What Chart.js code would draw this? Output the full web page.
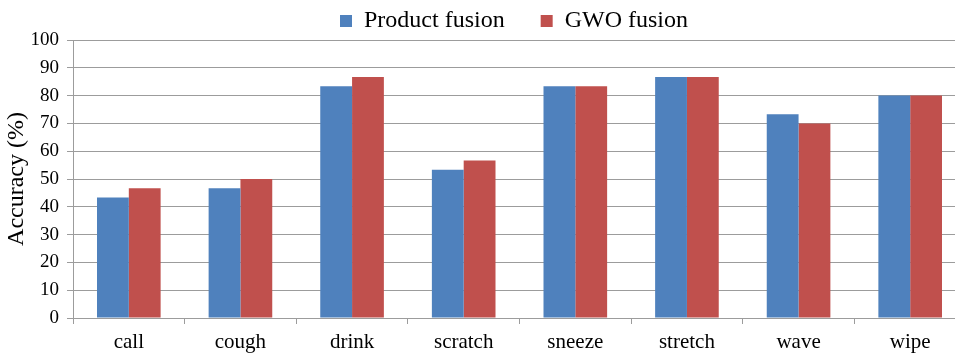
<!DOCTYPE html>
<html>
<head>
<meta charset="utf-8">
<script src="https://cdn.jsdelivr.net/npm/chart.js@4"></script>
<style>
  html, body { margin: 0; padding: 0; overflow: hidden; background: #fff; }
  canvas { display: block; }
</style>
</head>
<body>
<canvas id="accuracyChart" width="1028" height="356"></canvas>
<script>
// Data
const categories = ['call', 'cough', 'drink', 'scratch', 'sneeze', 'stretch', 'wave', 'wipe'];
const productFusion = [43.33, 46.67, 83.33, 53.33, 83.33, 86.67, 73.33, 80];
const gwoFusion = [46.67, 50, 86.67, 56.67, 83.33, 86.67, 70, 80];
const yTicks = [0, 10, 20, 30, 40, 50, 60, 70, 80, 90, 100];

const serif = "'Liberation Serif', 'Times New Roman', serif";
const gridGray = '#9c9c9c';

const ctx = document.getElementById('accuracyChart');
new Chart(ctx, {
  type: 'bar',
  data: {
    labels: categories,
    datasets: [{
      label: 'Product fusion',
      data: productFusion,
      backgroundColor: '#4F81BD',
      categoryPercentage: 0.57,
      barPercentage: 1
    }, {
      label: 'GWO fusion',
      data: gwoFusion,
      backgroundColor: '#C0504D',
      categoryPercentage: 0.57,
      barPercentage: 1
    }]
  },
  options: {
    responsive: false,
    animation: false,
    // negative top padding so the wide legend spacing does not push the plot down
    layout: { padding: { top: -27, left: 0, right: 0, bottom: 0 } },
    plugins: {
      tooltip: { enabled: false },
      legend: {
        position: 'top',
        maxHeight: 67,
        labels: {
          color: '#000',
          font: { family: serif, size: 24 },
          boxWidth: 12,
          boxHeight: 12,
          padding: 36
        }
      }
    },
    scales: {
      x: {
        afterFit: scale => { scale.height = 38; },
        grid: {
          offset: true,
          drawOnChartArea: false,
          drawTicks: true,
          tickLength: 6,
          color: gridGray
        },
        border: { display: true, color: gridGray },
        ticks: {
          color: '#000',
          font: { family: serif, size: 21 },
          padding: 6
        }
      },
      y: {
        min: 0,
        max: 100,
        afterBuildTicks: scale => { scale.ticks = yTicks.map(v => ({ value: v })); },
        afterFit: scale => { scale.width = 73; },
        grid: { color: gridGray, tickLength: 6 },
        border: { display: true, color: gridGray },
        ticks: {
          color: '#000',
          font: { family: serif, size: 19 },
          padding: 8
        },
        title: {
          display: true,
          text: 'Accuracy (%)',
          color: '#000',
          font: { family: serif, size: 24 },
          padding: { top: 2, bottom: 0 }
        }
      },
      spare: {
        position: 'right',
        display: true,
        afterFit: scale => { scale.width = 62; },
        grid: { display: false },
        border: { display: false },
        ticks: { display: false }
      }
    }
  }
});
</script>
</body>
</html>
